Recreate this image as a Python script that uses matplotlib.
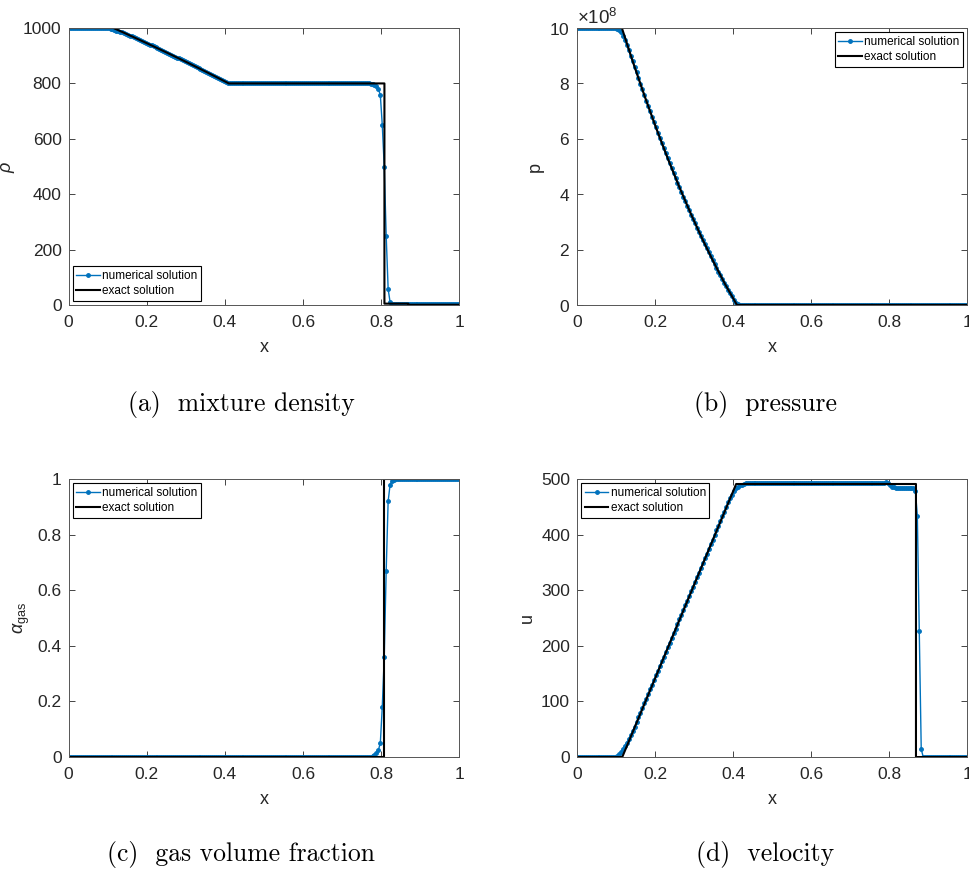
import numpy as np
import matplotlib
matplotlib.use("Agg")
import matplotlib.pyplot as plt
from matplotlib.ticker import ScalarFormatter

plt.rcParams['font.family'] = ['Liberation Sans', 'DejaVu Sans']
plt.rcParams['mathtext.fontset'] = 'custom'
plt.rcParams['mathtext.rm'] = 'Liberation Sans'
plt.rcParams['mathtext.it'] = 'Liberation Sans:italic'

# grid of the numerical solution, 200 cells, cell centres
x_num = np.linspace(0.0025, 0.9975, 200)

# ---- mixture density ----
rho_num = ([1000.0] * 18
           + [1000, 999.8, 999.2, 998, 996, 993.5, 991, 988.6, 986.3, 984.2, 982.2]
           + [979.4, 976.2, 973.0, 969.8, 966.6, 963.4, 960.1, 956.9, 953.6, 950.4,
              947.1, 943.8, 940.5, 937.2, 933.9, 930.6, 927.3, 923.9, 920.6, 917.2,
              913.9, 910.5, 907.1, 903.7, 900.3, 896.9, 893.5, 890.1, 886.7, 883.2,
              879.8, 876.3, 872.8, 869.4, 865.9, 862.4, 858.9, 855.4, 851.9, 848.3,
              844.8, 841.3, 837.7, 834.2, 830.6, 827.0, 823.4, 819.8, 816.2, 812.6]
           + [809.0, 805.6, 802.6, 801.0, 800.3, 800.1]
           + [800.0] * 68
           + [799.8, 799.5, 798.5, 796, 790, 780, 758, 650, 500, 250, 58, 10, 4, 2.5]
           + [2.0] * 33)
x_rho_ex = [0, 0.115, 0.1445, 0.174, 0.2035, 0.233, 0.2625, 0.292, 0.3215, 0.351, 0.3805,
            0.41, 0.808, 0.808, 0.869, 0.869, 1]
rho_ex = [1000, 1000, 981.3, 962.3, 943.1, 923.6, 903.8, 883.7, 863.3, 842.5, 821.4,
          800, 800, 5, 5, 1, 1]

# ---- pressure (units 1e8 Pa) ----
p_num = ([10.0] * 18
         + [10.0, 9.99, 9.97, 9.92, 9.84, 9.72, 9.56, 9.38, 9.19, 9.00, 8.80]
         + [8.605, 8.397, 8.191, 7.986, 7.783, 7.582, 7.382, 7.184, 6.988, 6.794,
            6.601, 6.410, 6.221, 6.033, 5.847, 5.663, 5.481, 5.300, 5.121, 4.944,
            4.768, 4.594, 4.422, 4.252, 4.083, 3.916, 3.751, 3.588, 3.426, 3.266,
            3.107, 2.951, 2.796, 2.643, 2.491, 2.341, 2.193, 2.047, 1.902, 1.759,
            1.618, 1.479, 1.341, 1.205, 1.071, 0.938, 0.807, 0.678, 0.550, 0.425]
         + [0.31, 0.19, 0.09, 0.035, 0.012, 0.004]
         + [0.002] * 115)
x_p_ex = [0, 0.115, 0.1445, 0.174, 0.2035, 0.233, 0.2625, 0.292, 0.3215, 0.351, 0.3805, 0.41, 1]
p_ex = [10, 10, 8.724, 7.513, 6.365, 5.278, 4.253, 3.286, 2.378, 1.527, 0.730, 0.003, 0.003]

# ---- gas volume fraction ----
alpha_num = ([0.0] * 154
             + [0.0005, 0.002, 0.006, 0.013, 0.025, 0.05, 0.18, 0.36, 0.67, 0.92,
                0.98, 0.993, 0.997, 0.999]
             + [1.0] * 32)
x_alpha_ex = [0, 0.808, 0.808, 1]
alpha_ex = [0, 0, 1, 1]

# ---- velocity ----
u_num = ([0.0] * 18
         + [0.1, 0.5, 2, 5, 9.5, 14.5, 20, 26, 32.5, 39, 46]
         + [54.5, 62.9, 71.3, 79.7, 88.1, 96.5, 104.9, 113.3, 121.7, 130.1,
            138.5, 146.9, 155.3, 163.7, 172.1, 180.6, 189.0, 197.4, 205.8, 214.2,
            222.6, 231.0, 239.4, 247.8, 256.2, 264.6, 273.0, 281.4, 289.8, 298.2,
            306.6, 315.0, 323.4, 331.8, 340.3, 348.7, 357.1, 365.5, 373.9, 382.3,
            390.7, 399.1, 407.5, 415.9, 424.3, 432.7, 441.1, 449.5, 457.9]
         + [465, 472, 478, 483, 486.5, 488.5, 490, 491]
         + [492.0] * 70
         + [492.5, 493, 494, 493.5, 490, 486.5, 485]
         + [484.5] * 9
         + [484, 479, 434, 226, 14, 0.5]
         + [0.0] * 22)
x_u_ex = [0, 0.116, 0.408, 0.869, 0.869, 1]
u_ex = [0, 0, 491, 491, 0, 0]

xticks = [0, 0.2, 0.4, 0.6, 0.8, 1]
xticklabels = ['0', '0.2', '0.4', '0.6', '0.8', '1']

blue = '#0072BD'
axcol = '#262626'

fig = plt.figure(figsize=(9.69, 8.76), dpi=100)
ax_a = fig.add_axes([0.0707, 0.6518, 0.4035, 0.3162])
ax_b = fig.add_axes([0.5955, 0.6518, 0.4025, 0.3162])
ax_c = fig.add_axes([0.0707, 0.1358, 0.4035, 0.3174])
ax_d = fig.add_axes([0.5955, 0.1358, 0.4025, 0.3174])


def style(ax, yl, ylim, yticks, yticklabels=None):
    ax.set_xlim(0, 1)
    ax.set_ylim(*ylim)
    ax.set_xticks(xticks)
    ax.set_xticklabels(xticklabels)
    ax.set_yticks(yticks)
    if yticklabels is not None:
        ax.set_yticklabels(yticklabels)
    ax.tick_params(direction='in', top=True, right=True, length=4, width=0.6,
                   colors=axcol, labelsize=12.5, pad=5)
    ax.tick_params(axis='x', pad=7)
    for s in ax.spines.values():
        s.set_color('#555555')
        s.set_linewidth(0.7)
    ax.set_xlabel('x', fontsize=13, color=axcol, labelpad=7)
    ax.set_ylabel(yl, fontsize=13, color=axcol)


def draw(ax, xe, ye, yn, loc):
    ax.plot(x_num, yn, '.-', color=blue, lw=1.0, ms=5, label='numerical solution')
    ax.plot(xe, ye, '-', color='black', lw=1.5, label='exact solution')
    leg = ax.legend(loc=loc, fontsize=8.5, frameon=True, fancybox=False, framealpha=1,
                    edgecolor='black', borderpad=0.3, labelspacing=0.3,
                    handlelength=2.0, handletextpad=0.2, borderaxespad=0.35)
    leg.get_frame().set_linewidth(0.8)


draw(ax_a, x_rho_ex, rho_ex, rho_num, 'lower left')
style(ax_a, r'$\rho$', (0, 1000), [0, 200, 400, 600, 800, 1000])

draw(ax_b, x_p_ex, np.array(p_ex) * 1e8, np.array(p_num) * 1e8, 'upper right')
style(ax_b, 'p', (0, 10e8), [0, 2e8, 4e8, 6e8, 8e8, 10e8])
fmt = ScalarFormatter(useMathText=True)
fmt.set_powerlimits((8, 8))
ax_b.yaxis.set_major_formatter(fmt)
ax_b.yaxis.get_offset_text().set_fontsize(13.5)
ax_b.yaxis.get_offset_text().set_color(axcol)

draw(ax_c, x_alpha_ex, alpha_ex, alpha_num, 'upper left')
style(ax_c, r'$\alpha_{\mathrm{gas}}$', (0, 1), [0, 0.2, 0.4, 0.6, 0.8, 1],
      ['0', '0.2', '0.4', '0.6', '0.8', '1'])

draw(ax_d, x_u_ex, u_ex, u_num, 'upper left')
style(ax_d, 'u', (0, 500), [0, 100, 200, 300, 400, 500])

captions = ['(a)  mixture density', '(b)  pressure', '(c)  gas volume fraction', '(d)  velocity']
cpos = [(0.249, 0.5377), (0.790, 0.5377), (0.249, 0.024), (0.790, 0.024)]
for c, (cx, cy) in zip(captions, cpos):
    fig.text(cx, cy, c, family='cmr10', fontsize=18.5, ha='center', va='center')

fig.savefig('out.png', dpi=100)
